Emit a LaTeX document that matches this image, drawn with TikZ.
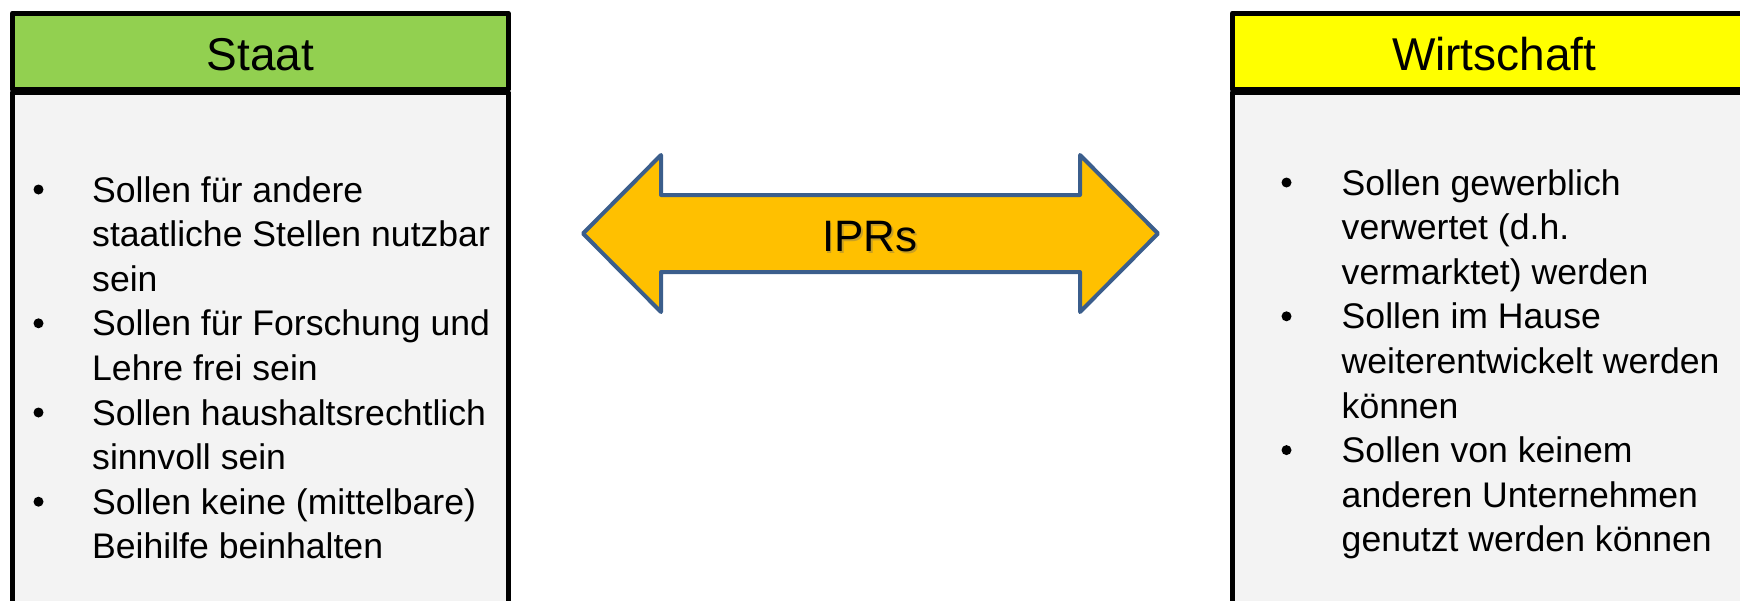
\documentclass[tikz,border=0pt]{standalone}
\usepackage{fontspec}
\setmainfont{Liberation Sans}
\definecolor{staatgreen}{HTML}{92D050}
\definecolor{wirtyellow}{HTML}{FFFF00}
\definecolor{bodygray}{HTML}{F3F3F3}
\definecolor{arrowfill}{HTML}{FFC000}
\definecolor{arrowedge}{HTML}{3B5E8C}
\begin{document}
\begin{tikzpicture}[x=1pt,y=-1pt,
  panel/.style={draw=black, line width=5pt, inner sep=0pt, outer sep=0pt, line join=round},
  headbox/.style={panel, text height=38pt, text depth=0pt,
    font=\fontsize{46}{50}\selectfont},
  bodybox/.style={panel, fill=bodygray},
  itemline/.style={anchor=base west, inner sep=0pt, font=\fontsize{35.6}{44.6}\selectfont},
  dot/.style={circle, fill=black, inner sep=0pt, minimum size=10pt},
  arrowshape/.style={draw=arrowedge, fill=arrowfill, line width=4pt, line join=round}]
\useasboundingbox (0,0) rectangle (1740,600);
\clip (0,0) rectangle (1740,600);

% Staat panel
\node[bodybox, minimum width=495.5pt, minimum height=557.5pt] (staatbody) at (260.25,371.25) {};
\node[headbox, fill=staatgreen, minimum width=495.5pt, minimum height=76.5pt] (staathead) at (260.25,51.25) {Staat};

% Wirtschaft panel
\node[bodybox, minimum width=523.5pt, minimum height=557.5pt] (wirtbody) at (1494.25,371.25) {};
\node[headbox, fill=wirtyellow, minimum width=523.5pt, minimum height=76.5pt] (wirthead) at (1494.25,51.25) {Wirtschaft};

% Staat items
\foreach \t [count=\i from 0] in {Sollen für andere,staatliche Stellen nutzbar,sein,
    Sollen für Forschung und,Lehre frei sein,Sollen haushaltsrechtlich,sinnvoll sein,
    Sollen keine (mittelbare),Beihilfe beinhalten}
  \node[itemline] (sline\i) at (92,202+44.6*\i) {\t};
\foreach \i in {0,3,5,7}
  \node[dot] (sdot\i) at (38.5,189.5+44.6*\i) {};

% Wirtschaft items
\foreach \t [count=\i from 0] in {Sollen gewerblich,verwertet (d.h.,vermarktet) werden,
    Sollen im Hause,weiterentwickelt werden,können,
    Sollen von keinem,anderen Unternehmen,genutzt werden können}
  \node[itemline] (wline\i) at (1341.5,195+44.6*\i) {\t};
\foreach \i in {0,3,6}
  \node[dot] (wdot\i) at (1286.5,182.5+44.6*\i) {};

% IPRs double arrow
\draw[arrowshape] (583,233.5) -- (661,155) -- (661,195) -- (1080,195) -- (1080,155)
  -- (1158,233.5) -- (1080,312) -- (1080,272) -- (661,272) -- (661,312) -- cycle;
\node[anchor=base, inner sep=0pt, text=black!60, opacity=0.35,
  font=\fontsize{44}{48}\selectfont] (iprsshadow) at (871.5,253.2) {IPRs};
\node[anchor=base, inner sep=0pt, font=\fontsize{44}{48}\selectfont] (iprs) at (870,251.7) {IPRs};
\end{tikzpicture}
\end{document}
